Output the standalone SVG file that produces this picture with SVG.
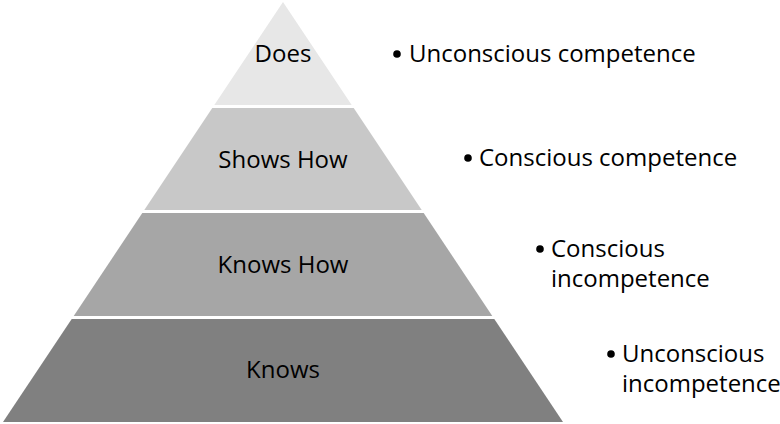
<svg xmlns="http://www.w3.org/2000/svg" width="780" height="424" viewBox="0 0 780 424">
<style>
.lvl{font-family:"Open Sans","Noto Sans","Liberation Sans",sans-serif;font-size:24px;fill:#000;text-anchor:middle}
.note{font-family:"Open Sans","Noto Sans","Liberation Sans",sans-serif;font-size:24px;fill:#000}
.dot{fill:#000}
</style>
<rect width="780" height="424" fill="#fff"/>
<g id="does">
<polygon points="283,2 351.7,105 214.3,105" fill="#e7e7e7"/>
<text class="lvl" x="283" y="62">Does</text>
</g>
<g id="shows-how">
<polygon points="212.3,108 353.7,108 421.7,210 144.3,210" fill="#c8c8c8"/>
<text class="lvl" x="283" y="168">Shows How</text>
</g>
<g id="knows-how">
<polygon points="142.3,213 423.7,213 492.3,316 73.7,316" fill="#a6a6a6"/>
<text class="lvl" x="283" y="273">Knows How</text>
</g>
<g id="knows">
<polygon points="71.7,319 494.3,319 563,422 3,422" fill="#808080"/>
<text class="lvl" x="283" y="378">Knows</text>
</g>
<g id="notes">
<circle class="dot" cx="397" cy="54" r="3.8"/>
<text class="note" x="409" y="62">Unconscious competence</text>
<circle class="dot" cx="468" cy="158" r="3.8"/>
<text class="note" x="479" y="166">Conscious competence</text>
<circle class="dot" cx="540" cy="249" r="3.8"/>
<text class="note" x="551" y="257">Conscious<tspan x="551" y="287">incompetence</tspan></text>
<circle class="dot" cx="611" cy="354" r="3.8"/>
<text class="note" x="622" y="362">Unconscious<tspan x="622" y="392">incompetence</tspan></text>
</g>
</svg>
